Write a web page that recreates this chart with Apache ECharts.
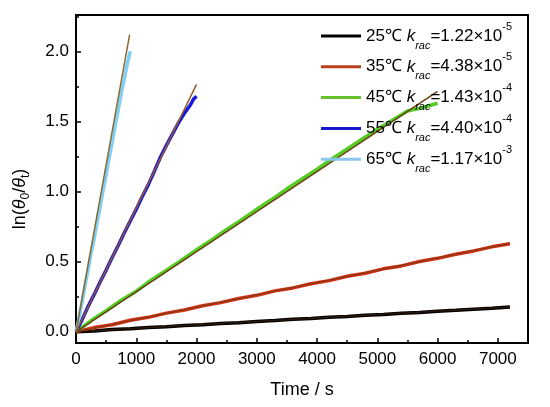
<!DOCTYPE html>
<html>
<head>
<meta charset="utf-8">
<script src="https://cdn.jsdelivr.net/npm/echarts@6/dist/echarts.min.js"></script>
<style>
  html, body { margin: 0; padding: 0; background: #fff; }
  #main { width: 550px; height: 407px; }
</style>
</head>
<body>
<div id="main"></div>
<script>
// measured curves, [time s, ln(theta0/thetat)]
const data25 = [[0,0],[300,0.006],[600,0.016],[900,0.021],[1200,0.030],[1500,0.036],[1800,0.045],[2100,0.050],[2400,0.059],[2700,0.065],[3000,0.074],[3300,0.080],[3600,0.089],[3900,0.094],[4200,0.103],[4500,0.109],[4800,0.118],[5100,0.123],[5400,0.132],[5700,0.138],[6000,0.147],[6300,0.153],[6600,0.161],[6900,0.168],[7200,0.176]];
const data35 = [[0,0],[300,0.030],[600,0.050],[900,0.082],[1200,0.103],[1500,0.133],[1800,0.155],[2100,0.186],[2400,0.208],[2700,0.238],[3000,0.260],[3300,0.292],[3600,0.313],[3900,0.343],[4200,0.365],[4500,0.396],[4800,0.418],[5100,0.449],[5400,0.470],[5700,0.501],[6000,0.524],[6300,0.553],[6600,0.577],[6900,0.606],[7200,0.628]];
const data45 = [[0,0],[250,0.08],[500,0.15],[750,0.225],[1000,0.29],[1250,0.37],[1500,0.44],[1750,0.51],[2000,0.585],[2250,0.655],[2500,0.73],[2750,0.80],[3000,0.875],[3250,0.945],[3500,1.02],[3750,1.09],[4000,1.16],[4250,1.235],[4500,1.305],[4750,1.375],[5000,1.445],[5250,1.51],[5500,1.575],[5750,1.60],[6000,1.63]];
const data55 = [[0,0],[100,0.085],[200,0.18],[300,0.265],[400,0.355],[500,0.44],[600,0.53],[700,0.615],[800,0.705],[900,0.79],[1000,0.875],[1100,0.965],[1200,1.05],[1300,1.145],[1400,1.245],[1500,1.33],[1600,1.41],[1700,1.49],[1800,1.56],[1900,1.62],[1950,1.66],[2000,1.68]];
const data65 = [[0,0],[50,0.10],[100,0.21],[150,0.33],[200,0.44],[250,0.56],[300,0.66],[350,0.78],[400,0.89],[450,1.01],[500,1.12],[550,1.24],[600,1.35],[650,1.47],[700,1.58],[750,1.70],[800,1.80],[850,1.91],[900,2.00]];

// fitted straight lines (start, end)
const fit25 = [[0,0],[7200,0.176]];
const fit35 = [[0,0],[7200,0.631]];
const fit45 = [[0,0],[6000,1.716]];
const fit55 = [[0,0],[2000,1.765]];
const fit65 = [[0,0],[890,2.12]];

const names = ['25', '35', '45', '55', '65'];
const rateText = ['1.22', '4.38', '1.43', '4.40', '1.17'];
const rateExp = ['-5', '-5', '-4', '-4', '-3'];
const dataColors = ['#000000', '#dc2e16', '#55cc22', '#1818d8', '#80d0f5'];
const legendColors = ['#000000', '#b8401e', '#66c22a', '#1818d0', '#88c8f0'];
const fitColors = ['#2a1608', '#8b3a12', '#6a4016', '#9a5a28', '#8a6a30'];

const FONT = 'Arial, "Liberation Sans", sans-serif';

const dataSets = [data25, data35, data45, data55, data65];
const fitSets = [fit25, fit35, fit45, fit55, fit65];

const series = [];
dataSets.forEach((d, i) => {
  series.push({
    name: names[i], type: 'line', data: d, showSymbol: false, symbol: 'none',
    lineStyle: { color: dataColors[i], width: 3.5 }, itemStyle: { color: legendColors[i] },
    clip: false, animation: false, z: 2
  });
});
fitSets.forEach((d, i) => {
  series.push({
    name: 'fit' + names[i], type: 'line', data: d, showSymbol: false, symbol: 'none',
    lineStyle: { color: fitColors[i], width: 1.5 }, clip: false, animation: false, z: 3
  });
});

// empty series so grid 1 (minor ticks only) gets its axes drawn
series.push({ type: 'line', xAxisIndex: 1, yAxisIndex: 1, data: [], silent: true });

const chart = echarts.init(document.getElementById('main'));
chart.setOption({
  backgroundColor: '#fff',
  animation: false,
  textStyle: { fontFamily: FONT },
  grid: [
    { left: 76, right: 22, top: 15, bottom: 64, show: true, borderColor: '#000', borderWidth: 2, containLabel: false },
    { left: 76, right: 52.1, top: 16.4, bottom: 75.2, show: false }
  ],
  legend: {
    data: names,
    orient: 'vertical',
    left: 321, top: 21, padding: 0,
    icon: 'rect',
    itemWidth: 40, itemHeight: 3, itemGap: 0.8,
    formatter: n => {
      const i = names.indexOf(n);
      return '{n|' + n + '℃ }{k|k}{s|rac}{n|=' + rateText[i] + '×10}{p|' + rateExp[i] + '}';
    },
    textStyle: {
      color: '#000',
      rich: {
        n: { fontSize: 17, lineHeight: 30, fontFamily: FONT, color: '#000' },
        k: { fontSize: 17, lineHeight: 30, fontStyle: 'italic', fontFamily: FONT, color: '#000' },
        s: { fontSize: 11, lineHeight: 10, fontStyle: 'italic', verticalAlign: 'bottom', fontFamily: FONT, color: '#000' },
        p: { fontSize: 11, lineHeight: 17, verticalAlign: 'top', fontFamily: FONT, color: '#000' }
      }
    }
  },
  xAxis: [
    {
      type: 'value', gridIndex: 0, min: 0, max: 7500, interval: 1000,
      name: 'Time / s', nameLocation: 'middle', nameGap: 38,
      nameTextStyle: { fontSize: 18, color: '#000', fontFamily: FONT },
      axisLine: { show: true, onZero: false, lineStyle: { color: '#000', width: 2 } },
      axisTick: { show: true, inside: true, length: 5, lineStyle: { color: '#000', width: 1.5 } },
      axisLabel: { fontSize: 17, color: '#000', margin: 8, fontFamily: FONT,
        formatter: v => (v % 1000 === 0 ? String(v) : '') },
      splitLine: { show: false }
    },
    {
      type: 'value', gridIndex: 1, min: 0, max: 7000, interval: 500, offset: 11.2,
      axisLine: { show: false, onZero: false },
      axisTick: { show: true, inside: true, length: 3, lineStyle: { color: '#000', width: 1.5 } },
      axisLabel: { show: false }, splitLine: { show: false }
    }
  ],
  yAxis: [
    {
      type: 'value', gridIndex: 0, min: -0.08, max: 2.26, splitNumber: 5,
      name: '{n|ln(}{i|θ}{s|0}{n|/}{i|θ}{s|t}{n|)}', nameLocation: 'middle', nameGap: 44, nameRotate: 90,
      nameTextStyle: {
        color: '#000', padding: [0, 40, 0, 0],
        rich: {
          n: { fontSize: 18, lineHeight: 24, fontFamily: FONT, color: '#000' },
          i: { fontSize: 18, lineHeight: 24, fontStyle: 'italic', fontFamily: FONT, color: '#000' },
          s: { fontSize: 12, lineHeight: 9, verticalAlign: 'bottom', fontFamily: FONT, color: '#000' }
        }
      },
      axisLine: { show: true, onZero: false, lineStyle: { color: '#000', width: 2 } },
      axisTick: { show: true, inside: true, length: 5, lineStyle: { color: '#000', width: 1.5 } },
      axisLabel: { fontSize: 17, color: '#000', margin: 7, fontFamily: FONT,
        formatter: v => (Math.abs(v * 2 - Math.round(v * 2)) < 1e-6 ? v.toFixed(1) : '') },
      splitLine: { show: false }
    },
    {
      type: 'value', gridIndex: 1, min: 0, max: 2.25, interval: 0.25,
      axisLine: { show: false, onZero: false },
      axisTick: { show: true, inside: true, length: 3, lineStyle: { color: '#000', width: 1.5 } },
      axisLabel: { show: false }, splitLine: { show: false }
    }
  ],
  series: series
});
</script>
</body>
</html>
